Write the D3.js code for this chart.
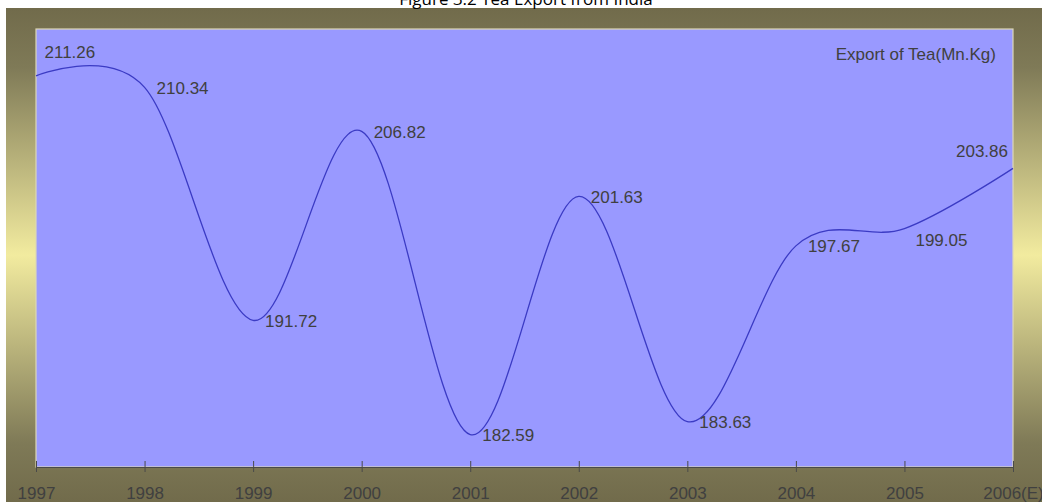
<!DOCTYPE html>
<html>
<head>
<meta charset="utf-8">
<script src="https://cdn.jsdelivr.net/npm/d3@7"></script>
<style>
  html, body { margin: 0; padding: 0; background: #ffffff; overflow: hidden; }
  svg { display: block; }
</style>
</head>
<body>
<script>
// Tea exports from India, million kg per year
const years = ["1997", "1998", "1999", "2000", "2001", "2002", "2003", "2004", "2005", "2006(E)"];
const exportsMnKg = [211.26, 210.34, 191.72, 206.82, 182.59, 201.63, 183.63, 197.67, 199.05, 203.86];
// where each value label sits relative to its point
const labelPlacement = ["above", "right", "right", "right", "right", "right", "right", "right", "belowRight", "aboveLeft"];
const yDomain = [180, 215];
const titleText = "Figure 3.2 Tea Export from India";
const seriesName = "Export of Tea(Mn.Kg)";

const W = 1042, H = 502;
const plot = { left: 36, top: 29, right: 1013, bottom: 467 };
const font = "'Liberation Sans', Arial, sans-serif";
const textColor = "#404040";

const svg = d3.select("body").append("svg")
  .attr("width", W).attr("height", H);

// olive → pale yellow → olive backdrop
const defs = svg.append("defs");
const grad = defs.append("linearGradient")
  .attr("id", "backdrop").attr("x1", 0).attr("y1", 0).attr("x2", 0).attr("y2", 1);
[[0, "#716b4b"], [0.12, "#7f7a57"], [0.5, "#f2eb9f"], [0.88, "#7f7a57"], [1, "#716b4b"]]
  .forEach(([o, c]) => grad.append("stop").attr("offset", o).attr("stop-color", c));

svg.append("rect")
  .attr("x", 6).attr("y", 8).attr("width", W - 6).attr("height", H - 8)
  .attr("fill", "url(#backdrop)");

// title, sitting right at the top edge
svg.append("text")
  .attr("x", 526).attr("y", 5)
  .attr("text-anchor", "middle")
  .attr("font-family", "'Open Sans', 'Noto Sans', sans-serif")
  .attr("font-size", 17)
  .attr("fill", "#000")
  .text(titleText);

// plot area
svg.append("rect")
  .attr("x", plot.left).attr("y", plot.top)
  .attr("width", plot.right - plot.left).attr("height", plot.bottom - plot.top)
  .attr("fill", "#9999ff")
  .attr("stroke", "#dcd8b6").attr("stroke-width", 1.2);

const x = d3.scalePoint().domain(years).range([plot.left, plot.right]);
const y = d3.scaleLinear().domain(yDomain).range([plot.bottom, plot.top]);

// x axis with ticks crossing the baseline
const axis = svg.append("g")
  .attr("transform", `translate(0,${plot.bottom})`)
  .call(d3.axisBottom(x).tickSize(5).tickSizeOuter(0));
axis.select(".domain").attr("stroke", "#4a4a4a").attr("stroke-width", 1.2);
axis.selectAll(".tick line").attr("y1", -6).attr("y2", 5)
  .attr("stroke", "#4a4a4a").attr("stroke-width", 1);
axis.selectAll(".tick text")
  .attr("y", 32).attr("dy", 0)
  .attr("font-family", font).attr("font-size", 17)
  .attr("fill", textColor);

// smoothed series line
const line = d3.line()
  .x((d, i) => x(years[i]))
  .y(d => y(d))
  .curve(d3.curveCardinal.tension(0));

svg.append("path")
  .datum(exportsMnKg)
  .attr("d", line)
  .attr("fill", "none")
  .attr("stroke", "#3b3bc4")
  .attr("stroke-width", 1.3);

// value labels
const offsets = {
  above: { dx: 8.5, dy: -18, anchor: "start" },
  right: { dx: 12, dy: 6.5, anchor: "start" },
  belowRight: { dx: 11, dy: 17, anchor: "start" },
  aboveLeft: { dx: -5, dy: -11, anchor: "end" }
};
svg.append("g").selectAll("text")
  .data(exportsMnKg)
  .join("text")
  .each(function (d, i) {
    const o = offsets[labelPlacement[i]];
    d3.select(this)
      .attr("x", x(years[i]) + o.dx)
      .attr("y", y(d) + o.dy)
      .attr("text-anchor", o.anchor);
  })
  .attr("font-family", font).attr("font-size", 17)
  .attr("fill", textColor)
  .text(d => d3.format(".2f")(d));

// series legend entry
svg.append("text")
  .attr("x", 996).attr("y", 60)
  .attr("text-anchor", "end")
  .attr("font-family", font).attr("font-size", 17)
  .attr("fill", textColor)
  .text(seriesName);
</script>
</body>
</html>
